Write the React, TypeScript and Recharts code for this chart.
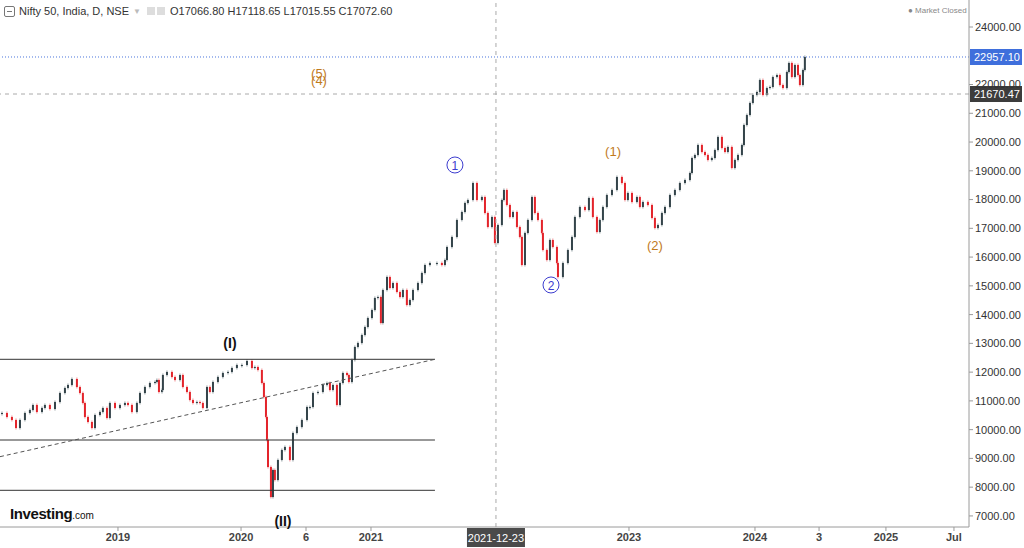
import React from "react"
import { ComposedChart, Bar, XAxis, YAxis, ReferenceLine, ReferenceDot } from "recharts"

const FONT = "'Liberation Sans', Arial, sans-serif"
const UP = "#34444a"
const DOWN = "#e3242b"
const ORANGE = "#c17a1c"
const BLUE = "#3d3dcf"

// session dates as decimal years
const dates = [
  2018.090, 2018.129, 2018.168, 2018.200, 2018.231, 2018.270, 2018.309, 2018.333, 2018.364, 2018.404,
  2018.427, 2018.466, 2018.506, 2018.545, 2018.584, 2018.608, 2018.639, 2018.678, 2018.702, 2018.725,
  2018.741, 2018.765, 2018.796, 2018.820, 2018.859, 2018.882, 2018.914, 2018.937, 2018.977, 2019.016,
  2019.055, 2019.079, 2019.110, 2019.149, 2019.173, 2019.212, 2019.251, 2019.291, 2019.306, 2019.322,
  2019.346, 2019.353, 2019.385, 2019.424, 2019.448, 2019.487, 2019.510, 2019.542, 2019.565, 2019.589,
  2019.620, 2019.644, 2019.667, 2019.699, 2019.722, 2019.746, 2019.785, 2019.824, 2019.864, 2019.895,
  2019.934, 2019.973, 2020.013, 2020.052, 2020.075, 2020.099, 2020.130, 2020.146, 2020.162, 2020.170,
  2020.178, 2020.201, 2020.217, 2020.232, 2020.256, 2020.287, 2020.311, 2020.350, 2020.374, 2020.405,
  2020.444, 2020.484, 2020.507, 2020.531, 2020.570, 2020.609, 2020.641, 2020.664, 2020.688, 2020.719,
  2020.743, 2020.766, 2020.798, 2020.813, 2020.837, 2020.860, 2020.884, 2020.915, 2020.939, 2020.962,
  2020.994, 2021.017, 2021.041, 2021.064, 2021.080, 2021.112, 2021.135, 2021.159, 2021.190, 2021.214,
  2021.237, 2021.268, 2021.292, 2021.316, 2021.355, 2021.386, 2021.410, 2021.449, 2021.504, 2021.543,
  2021.567, 2021.583, 2021.622, 2021.661, 2021.700, 2021.724, 2021.747, 2021.787, 2021.818, 2021.857,
  2021.881, 2021.904, 2021.936, 2021.959, 2021.983, 2022.014, 2022.030, 2022.053, 2022.077, 2022.101,
  2022.132, 2022.155, 2022.171, 2022.195, 2022.218, 2022.250, 2022.273, 2022.297, 2022.328, 2022.336,
  2022.367, 2022.391, 2022.414, 2022.446, 2022.454, 2022.493, 2022.532, 2022.564, 2022.587, 2022.626,
  2022.666, 2022.697, 2022.728, 2022.760, 2022.783, 2022.807, 2022.838, 2022.878, 2022.917, 2022.956,
  2022.980, 2023.003, 2023.035, 2023.074, 2023.097, 2023.121, 2023.160, 2023.192, 2023.215, 2023.239,
  2023.270, 2023.294, 2023.333, 2023.372, 2023.411, 2023.451, 2023.490, 2023.506, 2023.529, 2023.553,
  2023.584, 2023.608, 2023.631, 2023.662, 2023.686, 2023.710, 2023.741, 2023.765, 2023.788, 2023.819,
  2023.843, 2023.867, 2023.898, 2023.914, 2023.937, 2023.961, 2023.984, 2024.016, 2024.039, 2024.063,
  2024.094, 2024.118, 2024.141, 2024.173, 2024.196, 2024.220, 2024.251, 2024.267, 2024.290, 2024.314,
  2024.338, 2024.353, 2024.377, 2024.392,
]

const closes = [
  10579, 10440, 10336, 10057, 10336, 10579, 10683, 10857, 10614, 10753,
  10857, 10718, 10961, 11274, 11448, 11553, 11761, 11483, 11274, 10927,
  10440, 10266, 10057, 10509, 10614, 10753, 10405, 10927, 10753, 10857,
  10927, 10857, 10614, 10927, 11274, 11483, 11622, 11657, 11726, 11309,
  11379, 11900, 12005, 11831, 11726, 11900, 11483, 11309, 11031, 10927,
  10961, 10927, 10753, 11483, 11309, 11657, 11831, 11970, 12005, 12144,
  12248, 12248, 12387, 12144, 12178, 12074, 11622, 11135, 10440, 9640,
  8701, 7658, 8597, 8249, 8945, 9292, 9397, 8945, 9884, 10092,
  10336, 10787, 10787, 11274, 11309, 11553, 11622, 11379, 11553, 10857,
  11622, 11970, 11900, 11657, 12422, 12874, 13013, 13291, 13569, 13882,
  14160, 14578, 14612, 13708, 14856, 15308, 14925, 15099, 14786, 14612,
  14856, 14334, 14508, 14856, 15099, 15447, 15725, 15794, 15794, 15725,
  15899, 16351, 16699, 17290, 17568, 17881, 17985, 18576, 17985, 18089,
  17533, 17046, 17394, 16490, 17116, 17985, 18333, 17811, 17394, 17568,
  17046, 16699, 15725, 16838, 17290, 18089, 17533, 17290, 16838, 16246,
  15899, 16594, 16351, 15794, 15308, 15794, 16246, 16699, 17394, 17742,
  17637, 18055, 17394, 16872, 17290, 17742, 18159, 18333, 18785, 18576,
  17985, 18228, 17915, 18089, 17742, 17915, 17811, 17359, 17011, 17116,
  17533, 17742, 18159, 18333, 18576, 18680, 18924, 19445, 19550, 19897,
  19654, 19550, 19376, 19445, 19723, 20176, 19793, 19654, 19828, 19098,
  19376, 19550, 19897, 20593, 20940, 21358, 21636, 21740, 22157, 21636,
  21879, 21914, 22262, 22331, 21984, 21879, 22436, 22749, 22262, 22679,
  22331, 21984, 22505, 22957.1,
]

const priceTicks = [7000, 8000, 9000, 10000, 11000, 12000, 13000, 14000, 15000, 16000, 17000, 18000, 19000, 20000, 21000, 22000, 24000]
const timeTicks = [2019.0, 2019.966, 2020.476, 2020.986, 2023.011, 2024.0, 2024.503, 2025.028, 2025.562]
const timeTickLabels = ["2019", "2020", "6", "2021", "2023", "2024", "3", "2025", "Jul"]

const lastPrice = 22957.1
const crossPrice = 21670.47
const crossDate = 2021.967
const crossDateLabel = "2021-12-23"

const levelStart = 2018.074
const levelEnd = 2021.488
const levels = [12446, 9640, 7891]
const trendPrices = [9060, 12446]

const waveTexts = ["(I)", "(II)", "1", "2", "(1)", "(2)", "(5)", "(4)"]
const waveDates = [2019.879, 2020.295, 2021.645, 2022.399, 2022.886, 2023.215, 2020.578, 2020.578]
const wavePrices = [13013, 6824, 19202, 15030, 19654, 16420, 22366, 22157]
const waveKinds = ["major", "major", "circle", "circle", "minor", "minor", "minor", "minor"]

const chartData = dates.map((d, i) => ({
  date: d,
  open: i > 0 ? closes[i - 1] : closes[i],
  close: closes[i],
}))

const Candle = (props: any) => {
  const { x, y, width, height, payload } = props
  const up = payload.close >= payload.open
  const cx = x + width / 2
  return (
    <g>
      <line x1={cx} x2={cx} y1={y - 1.5} y2={y + Math.max(height, 1) + 1.5} stroke={up ? "#8a979b" : "#f08a8e"} strokeWidth={1} />
      <rect x={cx - 1} y={y} width={2} height={Math.max(height, 1)} fill={up ? UP : DOWN} />
    </g>
  )
}

const WaveMark = (props: any) => {
  const { cx, cy, text, kind } = props
  if (kind === "circle") {
    return (
      <g>
        <circle cx={cx} cy={cy} r={8} fill="#fff" stroke={BLUE} strokeWidth={1} />
        <text x={cx} y={cy + 1} textAnchor="middle" dominantBaseline="central" fontSize={12} fill={BLUE} fontFamily={FONT}>
          {text}
        </text>
      </g>
    )
  }
  const major = kind === "major"
  return (
    <text
      x={cx}
      y={cy}
      textAnchor="middle"
      dominantBaseline="central"
      fontSize={major ? 14 : 13}
      fontWeight={major ? "bold" : "normal"}
      fill={major ? "#111" : ORANGE}
      fontFamily={FONT}
    >
      {text}
    </text>
  )
}

const PriceBadge = (props: any) => {
  const { viewBox, value, fill } = props
  const x = viewBox.x + viewBox.width
  const y = viewBox.y
  return (
    <g>
      <rect x={x + 1} y={y - 8} width={52} height={16} fill={fill} />
      <text x={x + 5} y={y + 4} fontSize={11} fill="#fff" fontFamily={FONT}>
        {value}
      </text>
    </g>
  )
}

const DateBadge = (props: any) => {
  const { viewBox } = props
  const cx = viewBox.x
  const y = viewBox.y + viewBox.height
  return (
    <g>
      <rect x={cx - 29} y={y + 1} width={58} height={19} fill="#4a4a4a" />
      <text x={cx} y={y + 15} textAnchor="middle" fontSize={11} fill="#fff" fontFamily={FONT}>
        {crossDateLabel}
      </text>
    </g>
  )
}

export default function App() {
  return (
    <div style={{ position: "absolute", top: 0, left: 0, width: 1024, height: 548, background: "#fff", fontFamily: FONT }}>
      <ComposedChart width={1024} height={548} data={chartData} margin={{ top: 0, right: 0, bottom: 0, left: 0 }}>
        <XAxis
          dataKey="date"
          type="number"
          domain={[2018.074, 2025.68]}
          allowDataOverflow
          ticks={timeTicks}
          tickFormatter={(v: number) => timeTickLabels[timeTicks.indexOf(v)] ?? ""}
          height={21}
          tickSize={4}
          tick={{ fontSize: 11, fill: "#444", fontWeight: "bold", fontFamily: FONT }}
          stroke="#9a9a9a"
          interval={0}
        />
        <YAxis
          orientation="right"
          width={55}
          domain={[6615, 24939]}
          allowDataOverflow
          ticks={priceTicks}
          tickFormatter={(v: number) => v.toFixed(2)}
          tickSize={4}
          tick={{ fontSize: 11, fill: "#333", fontFamily: FONT, textAnchor: "start" }}
          stroke="#9a9a9a"
          interval={0}
        />
        {levels.map((p) => (
          <ReferenceLine
            key={p}
            segment={[{ x: levelStart, y: p }, { x: levelEnd, y: p }]}
            stroke="#333"
            strokeWidth={1}
          />
        ))}
        <ReferenceLine
          segment={[{ x: levelStart, y: trendPrices[0] }, { x: levelEnd, y: trendPrices[1] }]}
          stroke="#555"
          strokeDasharray="4 3"
        />
        <ReferenceLine x={crossDate} stroke="#aaa" strokeDasharray="4 4" label={<DateBadge />} />
        <ReferenceLine y={lastPrice} stroke="#4a76dd" strokeDasharray="1 2" label={<PriceBadge value="22957.10" fill="#3f6fdc" />} />
        <ReferenceLine y={crossPrice} stroke="#aaa" strokeDasharray="4 4" label={<PriceBadge value="21670.47" fill="#3c3c3c" />} />
        <Bar
          dataKey={(d: any) => [Math.min(d.open, d.close), Math.max(d.open, d.close)]}
          barSize={3}
          shape={<Candle />}
          isAnimationActive={false}
        />
        {waveTexts.map((t, i) => (
          <ReferenceDot
            key={t + i}
            x={waveDates[i]}
            y={wavePrices[i]}
            r={0}
            ifOverflow="visible"
            shape={(p: any) => <WaveMark {...p} text={t} kind={waveKinds[i]} />}
          />
        ))}
      </ComposedChart>

      <div style={{ position: "absolute", left: 4, top: 5, fontSize: 11, color: "#333", whiteSpace: "nowrap", pointerEvents: "none", display: "flex", alignItems: "center" }}>
        <span style={{ display: "inline-block", width: 9, height: 9, border: "1px solid #777", borderRadius: 2, marginRight: 4, position: "relative" }}>
          <span style={{ position: "absolute", left: 2, right: 2, top: 4, height: 1, background: "#777" }} />
        </span>
        <span>Nifty 50, India, D, NSE</span>
        <span style={{ color: "#bbb", fontSize: 8, margin: "0 6px 0 4px" }}>▼</span>
        <span style={{ display: "inline-block", width: 8, height: 8, background: "#ddd", marginRight: 2 }} />
        <span style={{ display: "inline-block", width: 8, height: 8, background: "#ddd", marginRight: 5 }} />
        <span>O17066.80 H17118.65 L17015.55 C17072.60</span>
      </div>

      <div style={{ position: "absolute", left: 908, top: 6, fontSize: 8, color: "#888", whiteSpace: "nowrap", pointerEvents: "none" }}>
        ● Market Closed
      </div>

      <div style={{ position: "absolute", left: 10, top: 505, whiteSpace: "nowrap", pointerEvents: "none", color: "#111" }}>
        <span style={{ fontSize: 15, fontWeight: "bold", letterSpacing: -0.4 }}>Investing</span>
        <span style={{ fontSize: 10 }}>.com</span>
      </div>
    </div>
  )
}
